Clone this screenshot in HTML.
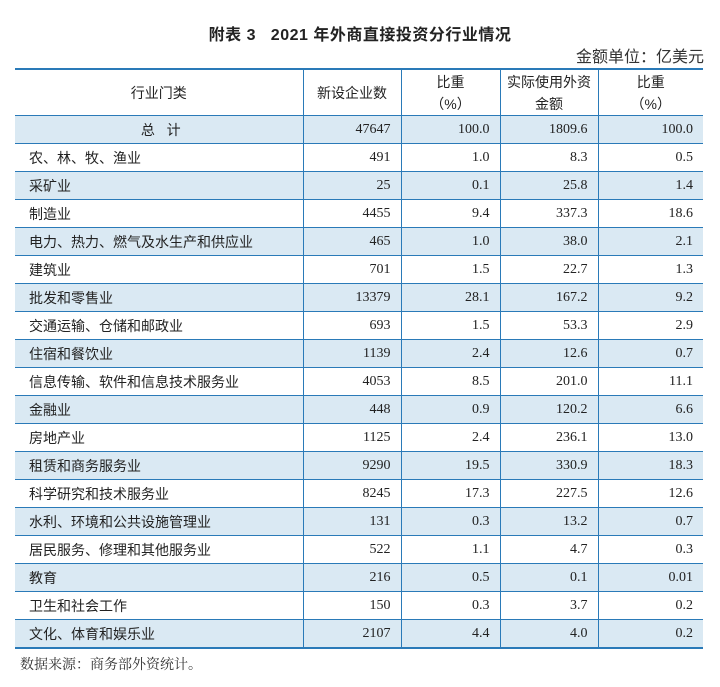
<!DOCTYPE html>
<html><head><meta charset="utf-8"><style>
body{margin:0;width:720px;height:687px;background:#fff;font-family:"Liberation Serif","Noto Serif CJK SC",serif;color:#222;position:relative;overflow:hidden}
.title{position:absolute;top:21px;left:0;width:720px;text-align:center;font-family:"Liberation Sans","Noto Sans CJK SC",sans-serif;font-size:16px;font-weight:bold;letter-spacing:0.5px}
.unit{position:absolute;top:47px;right:16px;font-family:"Liberation Sans","Noto Sans CJK SC",sans-serif;font-size:16px;color:#333;line-height:22px}
table{position:absolute;left:15px;top:68px;width:688px;border-collapse:collapse;font-size:14px;table-layout:fixed}
td,th{border-left:1.5px solid #2a7ab8;border-right:1.5px solid #2a7ab8;border-bottom:1.5px solid #2a7ab8;padding:0 10px;height:27px;line-height:20px;text-align:right;white-space:nowrap;overflow:hidden}
td:first-child,th:first-child{border-left:none;text-align:left;padding-left:14px;font-family:"Liberation Sans","Noto Sans CJK SC",sans-serif}
td:last-child,th:last-child{border-right:none}
thead th{border-top:2px solid #2a7ab8;height:45px;padding:0;font-weight:normal;text-align:center;font-family:"Liberation Sans","Noto Sans CJK SC",sans-serif;line-height:22px}
thead th:first-child{text-align:center;padding:0}
tr.s td{background:#dae9f3}
tbody tr:last-child td{border-bottom:2px solid #2a7ab8}
.note{position:absolute;left:20px;top:654px;font-size:14px;font-family:"Noto Serif CJK SC",serif;color:#333}
</style></head><body>
<div class="title">附表 3&nbsp;&nbsp;&nbsp;2021 年外商直接投资分行业情况</div>
<div class="unit">金额单位：亿美元</div>
<table>
<colgroup><col style="width:288px"><col style="width:98px"><col style="width:99px"><col style="width:98px"><col style="width:105px"></colgroup>
<thead><tr><th>行业门类</th><th>新设企业数</th><th>比重<br>（%）</th><th>实际使用外资<br>金额</th><th>比重<br>（%）</th></tr></thead>
<tbody>
<tr class="s"><td style="text-align:center">总&nbsp;&nbsp;&nbsp;计</td><td>47647</td><td>100.0</td><td>1809.6</td><td>100.0</td></tr>
<tr><td>农、林、牧、渔业</td><td>491</td><td>1.0</td><td>8.3</td><td>0.5</td></tr>
<tr class="s"><td>采矿业</td><td>25</td><td>0.1</td><td>25.8</td><td>1.4</td></tr>
<tr><td>制造业</td><td>4455</td><td>9.4</td><td>337.3</td><td>18.6</td></tr>
<tr class="s"><td>电力、热力、燃气及水生产和供应业</td><td>465</td><td>1.0</td><td>38.0</td><td>2.1</td></tr>
<tr><td>建筑业</td><td>701</td><td>1.5</td><td>22.7</td><td>1.3</td></tr>
<tr class="s"><td>批发和零售业</td><td>13379</td><td>28.1</td><td>167.2</td><td>9.2</td></tr>
<tr><td>交通运输、仓储和邮政业</td><td>693</td><td>1.5</td><td>53.3</td><td>2.9</td></tr>
<tr class="s"><td>住宿和餐饮业</td><td>1139</td><td>2.4</td><td>12.6</td><td>0.7</td></tr>
<tr><td>信息传输、软件和信息技术服务业</td><td>4053</td><td>8.5</td><td>201.0</td><td>11.1</td></tr>
<tr class="s"><td>金融业</td><td>448</td><td>0.9</td><td>120.2</td><td>6.6</td></tr>
<tr><td>房地产业</td><td>1125</td><td>2.4</td><td>236.1</td><td>13.0</td></tr>
<tr class="s"><td>租赁和商务服务业</td><td>9290</td><td>19.5</td><td>330.9</td><td>18.3</td></tr>
<tr><td>科学研究和技术服务业</td><td>8245</td><td>17.3</td><td>227.5</td><td>12.6</td></tr>
<tr class="s"><td>水利、环境和公共设施管理业</td><td>131</td><td>0.3</td><td>13.2</td><td>0.7</td></tr>
<tr><td>居民服务、修理和其他服务业</td><td>522</td><td>1.1</td><td>4.7</td><td>0.3</td></tr>
<tr class="s"><td>教育</td><td>216</td><td>0.5</td><td>0.1</td><td>0.01</td></tr>
<tr><td>卫生和社会工作</td><td>150</td><td>0.3</td><td>3.7</td><td>0.2</td></tr>
<tr class="s"><td>文化、体育和娱乐业</td><td>2107</td><td>4.4</td><td>4.0</td><td>0.2</td></tr>
</tbody></table>
<div class="note">数据来源：商务部外资统计。</div>
</body></html>
